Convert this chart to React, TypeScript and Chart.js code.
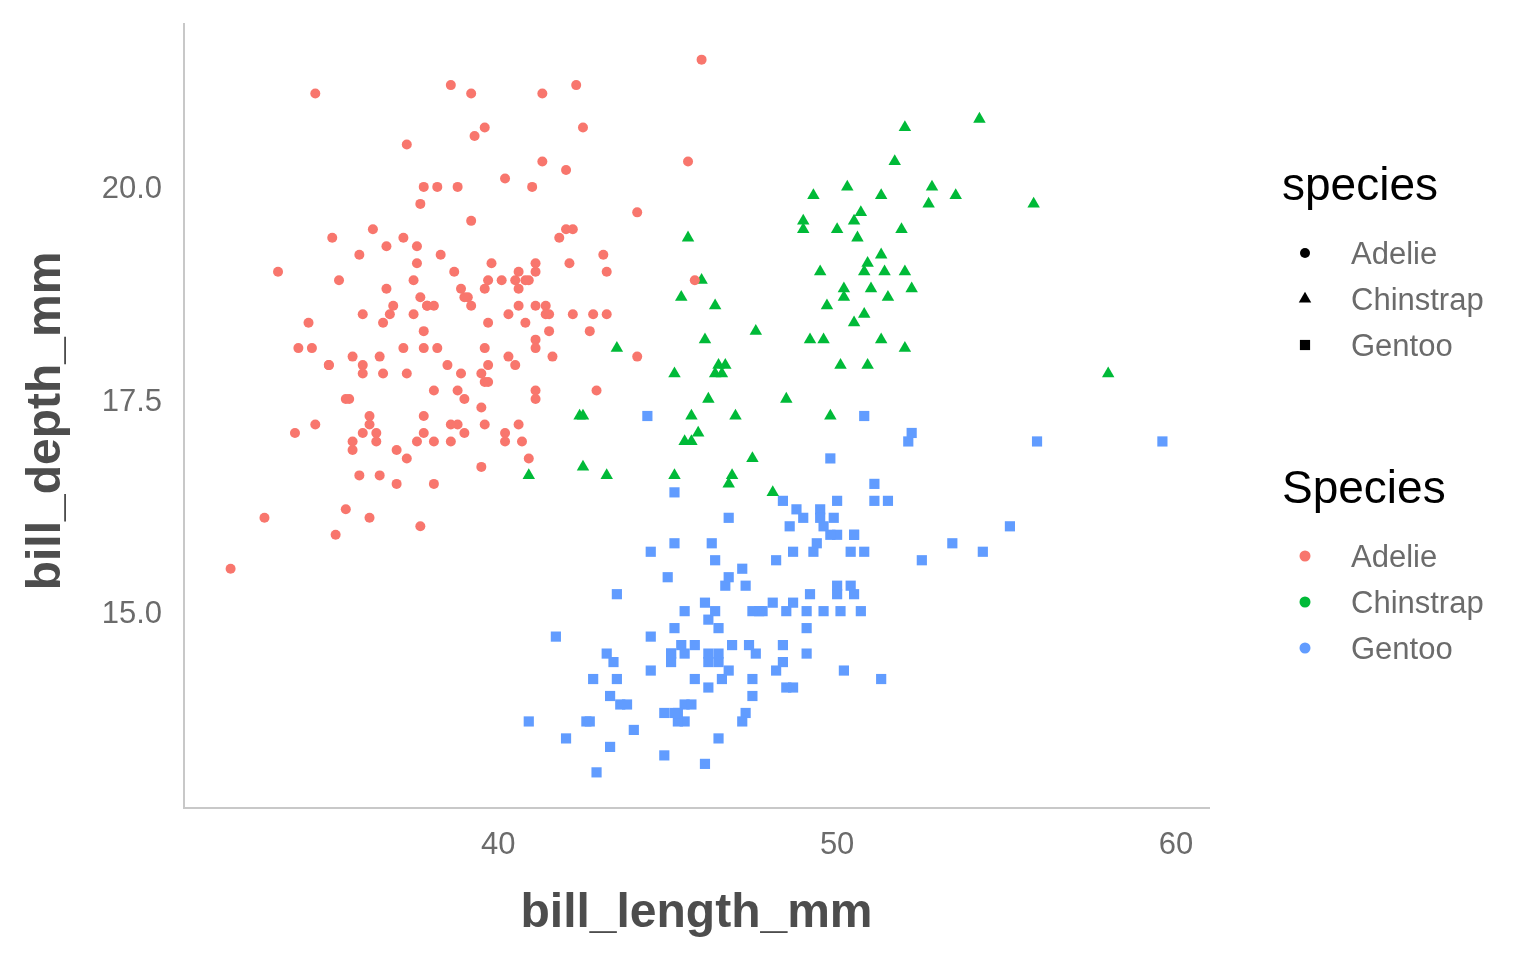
import React, { useEffect, useRef } from 'react';
import { Chart, registerables } from 'chart.js';

Chart.register(...registerables);

const SPECIES = ['Adelie', 'Chinstrap', 'Gentoo'];
const COLORS = ['#F8766D', '#00BA38', '#619CFF'];
const SHAPES = ['circle', 'triangle', 'rect'];
const X_TICKS = [40, 50, 60];
const Y_TICKS = [15, 17.5, 20];
const X_RANGE = [30.725, 60.975];
const Y_RANGE = [12.68, 21.92];
const X_TITLE = 'bill_length_mm';
const Y_TITLE = 'bill_depth_mm';
const SHAPE_LEGEND_TITLE = 'species';
const COLOR_LEGEND_TITLE = 'Species';

// [bill_length_mm, bill_depth_mm]
const ADELIE = [
  [39.1, 18.7], [39.5, 17.4], [40.3, 18], [36.7, 19.3], [39.3, 20.6], [38.9, 17.8], [39.2, 19.6], [34.1, 18.1],
  [42, 20.2], [37.8, 17.1], [37.8, 17.3], [41.1, 17.6], [38.6, 21.2], [34.6, 21.1], [36.6, 17.8], [38.7, 19],
  [42.5, 20.7], [34.4, 18.4], [46, 21.5], [37.8, 18.3], [37.7, 18.7], [35.9, 19.2], [38.2, 18.1], [38.8, 17.2],
  [35.3, 18.9], [40.6, 18.6], [40.5, 17.9], [37.9, 18.6], [40.5, 18.9], [39.5, 16.7], [37.2, 18.1], [39.5, 17.8],
  [40.9, 18.9], [36.4, 17], [39.2, 21.1], [38.8, 20], [42.2, 18.5], [37.6, 19.3], [39.8, 19.1], [36.5, 18],
  [40.8, 18.4], [36, 18.5], [44.1, 19.7], [37, 16.9], [39.6, 18.8], [41.1, 19], [37.5, 18.9], [36, 17.9],
  [42.3, 21.2], [39.6, 17.7], [40.1, 18.9], [35, 17.9], [42, 19.5], [34.5, 18.1], [41.4, 18.6], [39, 17.5],
  [40.6, 18.8], [36.5, 16.6], [37.6, 19.1], [35.7, 16.9], [41.3, 21.1], [37.6, 17], [41.1, 18.2], [36.4, 17.1],
  [41.6, 18], [35.5, 16.2], [41.1, 19.1], [35.9, 16.6], [41.8, 19.4], [33.5, 19], [39.7, 18.4], [39.6, 17.2],
  [45.8, 18.9], [35.5, 17.5], [42.8, 18.5], [40.9, 16.8], [37.2, 19.4], [36.2, 16.1], [42.1, 19.1], [34.6, 17.2],
  [42.9, 17.6], [36.7, 18.8], [35.1, 19.4], [37.3, 17.8], [41.3, 20.3], [36.3, 19.5], [36.9, 18.6], [38.3, 19.2],
  [38.9, 18.8], [35.7, 18], [41.1, 18.1], [34, 17.1], [39.6, 18.1], [36.2, 17.3], [40.8, 18.9], [38.1, 18.6],
  [40.3, 18.5], [33.1, 16.1], [43.2, 18.5], [35, 17.9], [41, 20], [37.7, 16], [37.8, 20], [37.9, 18.6],
  [39.7, 18.9], [38.6, 17.2], [38.2, 20], [38.1, 17], [43.2, 19], [38.1, 16.5], [45.6, 20.3], [39.7, 17.7],
  [42.2, 19.5], [39.6, 20.7], [42.7, 18.3], [38.6, 17], [37.3, 20.5], [35.7, 17], [41.1, 18.6], [36.2, 17.2],
  [37.7, 19.8], [40.2, 17], [41.4, 18.5], [35.2, 15.9], [40.6, 19], [38.8, 17.6], [41.5, 18.3], [39, 17.1],
  [44.1, 18], [38.5, 17.9], [43.1, 19.2], [36.8, 18.5], [37.5, 18.5], [38.1, 17.6], [41.1, 17.5], [35.6, 17.5],
  [40.2, 20.1], [37, 16.5], [39.7, 17.9], [40.2, 17.1], [40.6, 17.2], [32.1, 15.5], [40.7, 17], [37.3, 16.8],
  [39, 18.7], [39.2, 18.6], [36.6, 18.4], [36, 17.8], [37.8, 18.1], [36, 17.1], [41.5, 18.5],
];

const CHINSTRAP = [
  [46.5, 17.9], [50, 19.5], [51.3, 19.2], [45.4, 18.7], [52.7, 19.8], [45.2, 17.8], [46.1, 18.2], [51.3, 18.2],
  [46, 18.9], [51.3, 19.9], [46.6, 17.8], [51.7, 20.3], [47, 17.3], [52, 18.1], [45.9, 17.1], [50.5, 19.6],
  [50.3, 20], [58, 17.8], [46.4, 18.6], [49.2, 18.2], [42.4, 17.3], [48.5, 17.5], [43.2, 16.6], [50.6, 19.4],
  [46.7, 17.9], [52, 19], [50.5, 18.4], [49.5, 19], [46.4, 17.8], [52.8, 20], [40.9, 16.6], [54.2, 20.8],
  [42.5, 16.7], [51, 18.8], [49.7, 18.6], [47.5, 16.8], [47.6, 18.3], [52, 20.7], [46.9, 16.6], [53.5, 19.9],
  [49, 19.5], [46.2, 17.5], [50.9, 19.1], [45.5, 17], [50.9, 17.9], [50.8, 18.5], [50.1, 17.9], [49, 19.6],
  [51.5, 18.7], [49.8, 17.3], [48.1, 16.4], [51.4, 19], [45.7, 17.3], [50.7, 19.7], [42.5, 17.3], [52.2, 18.8],
  [45.2, 16.6], [49.3, 19.9], [50.2, 18.8], [45.6, 19.4], [51.9, 19.5], [46.8, 16.5], [45.7, 17], [55.8, 19.8],
  [43.5, 18.1], [49.6, 18.2], [50.8, 19], [50.2, 18.7],
];

const GENTOO = [
  [46.1, 13.2], [50, 16.3], [48.7, 14.1], [50, 15.2], [47.6, 14.5], [46.5, 13.5], [45.4, 14.6], [46.7, 15.3],
  [43.3, 13.4], [46.8, 15.4], [40.9, 13.7], [49, 16.1], [45.5, 13.7], [48.4, 14.6], [45.8, 14.6], [49.3, 15.7],
  [42, 13.5], [49.2, 15.2], [46.2, 14.5], [48.7, 15.1], [50.2, 14.3], [45.1, 14.5], [46.5, 14.5], [46.3, 15.8],
  [42.9, 13.1], [46.1, 15.1], [44.5, 14.3], [47.8, 15], [48.2, 14.3], [50, 15.3], [47.3, 15.3], [42.8, 14.2],
  [45.1, 14.5], [59.6, 17], [49.1, 14.8], [48.4, 16.3], [42.6, 13.7], [44.4, 17.3], [44, 13.6], [48.7, 15.7],
  [42.7, 13.7], [49.6, 16], [45.3, 13.7], [49.6, 15], [50.5, 15.9], [43.6, 13.9], [45.5, 13.9], [50.5, 15.9],
  [44.9, 13.3], [45.2, 15.8], [46.6, 14.2], [48.5, 14.1], [45.1, 14.4], [50.1, 15], [46.5, 14.4], [45, 15.4],
  [43.8, 13.9], [45.5, 15], [43.2, 14.5], [50.4, 15.3], [45.3, 13.8], [46.2, 14.9], [45.7, 13.9], [54.3, 15.7],
  [45.8, 14.2], [49.8, 16.8], [46.2, 14.4], [49.5, 16.2], [43.5, 14.2], [50.7, 15], [47.7, 15], [46.4, 15.6],
  [48.2, 15.6], [46.5, 14.8], [46.4, 15], [48.6, 16], [47.5, 14.2], [51.1, 16.3], [45.2, 13.8], [45.2, 16.4],
  [49.1, 14.5], [52.5, 15.6], [47.4, 14.6], [50, 15.9], [44.9, 13.8], [50.8, 17.3], [43.4, 14.4], [51.3, 14.2],
  [47.5, 14], [52.1, 17], [47.5, 15], [52.2, 17.1], [45.5, 14.5], [49.5, 16.1], [44.5, 14.7], [50.8, 15.7],
  [49.4, 15.8], [46.9, 14.6], [48.4, 14.4], [51.1, 16.5], [48.5, 15], [55.9, 17], [47.2, 15.5], [49.1, 15],
  [47.3, 13.8], [46.8, 16.1], [41.7, 14.7], [53.4, 15.8], [43.3, 14], [48.1, 15.1], [50.5, 15.2], [49.8, 15.9],
  [43.5, 15.2], [51.5, 16.3], [46.2, 14.1], [55.1, 16], [44.5, 15.7], [48.8, 16.2], [47.2, 13.7], [46.8, 14.3],
  [50.4, 15.7], [45.2, 14.8], [49.9, 16.1],
];

const SERIES = [ADELIE, CHINSTRAP, GENTOO];
const POINT_RADIUS = [5, 7.2, 7.2];

const FONT = '"Liberation Sans", Arial, Helvetica, sans-serif';
const TEXT_GRAY = '#6b6b6b';
const TITLE_GRAY = '#4d4d4d';
const AXIS_LINE = '#c8c8c8';

function drawShape(ctx: CanvasRenderingContext2D, shape: string, x: number, y: number, r: number) {
  ctx.beginPath();
  if (shape === 'circle') {
    ctx.arc(x, y, r, 0, Math.PI * 2);
  } else if (shape === 'triangle') {
    for (let i = 0; i < 3; i++) {
      const a = (i * 2 * Math.PI) / 3;
      const px = x + Math.sin(a) * r;
      const py = y - Math.cos(a) * r;
      if (i === 0) ctx.moveTo(px, py);
      else ctx.lineTo(px, py);
    }
    ctx.closePath();
  } else {
    const s = r * Math.SQRT1_2;
    ctx.rect(x - s, y - s, 2 * s, 2 * s);
  }
  ctx.fill();
}

const annotationsPlugin = {
  id: 'ggAnnotations',
  afterDraw(chart: any) {
    const ctx: CanvasRenderingContext2D = chart.ctx;
    const area = chart.chartArea;
    ctx.save();
    // axis titles
    ctx.fillStyle = TITLE_GRAY;
    ctx.font = `bold 48px ${FONT}`;
    ctx.textAlign = 'center';
    ctx.textBaseline = 'alphabetic';
    ctx.fillText(X_TITLE, (area.left + area.right) / 2, 927);
    ctx.save();
    ctx.translate(60, (area.top + area.bottom) / 2 + 5);
    ctx.rotate(-Math.PI / 2);
    ctx.fillText(Y_TITLE, 0, 0);
    ctx.restore();

    // legend 1: shapes
    const lx = 1282;
    const shapeX = 1305;
    const labelX = 1351;
    ctx.textAlign = 'left';
    ctx.fillStyle = '#000000';
    ctx.font = `46px ${FONT}`;
    ctx.fillText(SHAPE_LEGEND_TITLE, lx, 200);
    const rows1 = [253, 299, 345];
    SPECIES.forEach((name, i) => {
      ctx.fillStyle = '#000000';
      drawShape(ctx, SHAPES[i], shapeX, rows1[i], i === 0 ? 5 : 7.2);
      ctx.fillStyle = TEXT_GRAY;
      ctx.font = `31px ${FONT}`;
      ctx.textBaseline = 'middle';
      ctx.fillText(name, labelX, rows1[i] + 2);
      ctx.textBaseline = 'alphabetic';
    });

    // legend 2: colours
    ctx.fillStyle = '#000000';
    ctx.font = `46px ${FONT}`;
    ctx.fillText(COLOR_LEGEND_TITLE, lx, 503);
    const rows2 = [556, 602, 648];
    SPECIES.forEach((name, i) => {
      ctx.fillStyle = COLORS[i];
      drawShape(ctx, 'circle', shapeX, rows2[i], 5.5);
      ctx.fillStyle = TEXT_GRAY;
      ctx.font = `31px ${FONT}`;
      ctx.textBaseline = 'middle';
      ctx.fillText(name, labelX, rows2[i] + 2);
      ctx.textBaseline = 'alphabetic';
    });
    ctx.restore();
  },
};

export default function App() {
  const canvasRef = useRef<HTMLCanvasElement | null>(null);

  useEffect(() => {
    const canvas = canvasRef.current;
    if (!canvas) return;
    const chart = new Chart(canvas, {
      type: 'scatter',
      data: {
        datasets: SPECIES.map((name, i) => ({
          label: name,
          data: SERIES[i].map(([x, y]) => ({ x, y })),
          pointStyle: SHAPES[i] as any,
          pointRadius: POINT_RADIUS[i],
          pointBackgroundColor: COLORS[i],
          pointBorderWidth: 0,
          pointBorderColor: COLORS[i],
          backgroundColor: COLORS[i],
          borderColor: COLORS[i],
          showLine: false,
        })),
      },
      options: {
        animation: false,
        responsive: false,
        maintainAspectRatio: false,
        devicePixelRatio: 1,
        events: [],
        layout: { padding: { top: 24, right: 327, left: 0, bottom: 0 } },
        plugins: {
          legend: { display: false },
          tooltip: { enabled: false },
        },
        scales: {
          x: {
            type: 'linear',
            min: X_RANGE[0],
            max: X_RANGE[1],
            grid: { display: false, drawTicks: false },
            border: { display: true, color: AXIS_LINE, width: 2 },
            ticks: {
              padding: 19,
              color: TEXT_GRAY,
              font: { family: FONT, size: 31 },
              callback: (v: any) => String(v),
              autoSkip: false,
              maxRotation: 0,
            },
            afterBuildTicks: (scale: any) => {
              scale.ticks = X_TICKS.map((v) => ({ value: v }));
            },
            afterFit: (scale: any) => {
              scale.height = 152;
              scale.paddingLeft = 0;
              scale.paddingRight = 0;
            },
          },
          y: {
            type: 'linear',
            min: Y_RANGE[0],
            max: Y_RANGE[1],
            grid: { display: false, drawTicks: false },
            border: { display: true, color: AXIS_LINE, width: 2 },
            ticks: {
              padding: 22,
              labelOffset: 3,
              color: TEXT_GRAY,
              font: { family: FONT, size: 31 },
              callback: (v: any) => Number(v).toFixed(1),
              autoSkip: false,
            },
            afterBuildTicks: (scale: any) => {
              scale.ticks = Y_TICKS.map((v) => ({ value: v }));
            },
            afterFit: (scale: any) => {
              scale.width = 184;
              scale.paddingTop = 0;
              scale.paddingBottom = 0;
            },
          },
        },
      },
      plugins: [annotationsPlugin],
    });
    return () => chart.destroy();
  }, []);

  return (
    <div style={{ position: 'absolute', left: 0, top: 0, width: 1536, height: 960, background: '#ffffff' }}>
      <canvas ref={canvasRef} width={1536} height={960} style={{ display: 'block', width: 1536, height: 960 }} />
    </div>
  );
}
